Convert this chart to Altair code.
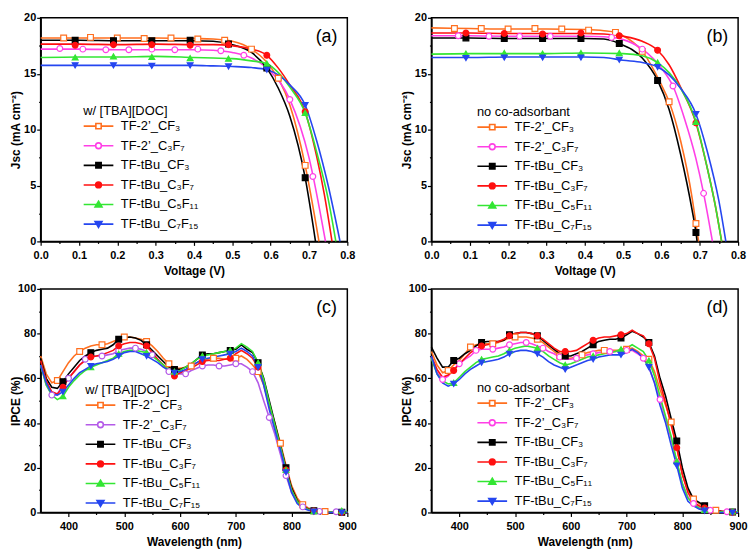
import altair as alt
import pandas as pd

FONT = "Liberation Sans"
W, H = 310, 226

SERIES = ["TF-2’_CF₃", "TF-2’_C₃F₇", "TF-tBu_CF₃", "TF-tBu_C₃F₇", "TF-tBu_C₅F₁₁", "TF-tBu_C₇F₁₅"]
MARKER_SHAPES = ["square", "circle", "square", "circle", "triangle-up", "triangle-down"]
COLORS_ABD = ["#FF6F1F", "#FF3FE6", "#000000", "#FF1010", "#33E633", "#2546F0"]
COLORS_C = ["#FF6F1F", "#B45AE8", "#000000", "#FF1010", "#33E633", "#2546F0"]

# legend symbols: line + marker (custom paths, pixel units at symbolSize 4)
SQ = "M-15,0H-2.7M2.7,0H15M-2.7,-2.7H2.7V2.7H-2.7Z"
CI = "M-15,0H-2.9M2.9,0H15M2.9,0A2.9,2.9,0,1,1,-2.9,0A2.9,2.9,0,1,1,2.9,0Z"
TU = "M-15,0H15M0,-3.3L3.5,2.6L-3.5,2.6Z"
TD = "M-15,0H15M0,3.3L3.5,-2.6L-3.5,-2.6Z"
LEGEND_PATHS = [SQ, CI, SQ, CI, TU, TD]

# ---------------- (a) J-V, w/ [TBA][DOC] ----------------
A_O_V = [0, 0.1, 0.2, 0.3, 0.4, 0.45, 0.5, 0.55, 0.6, 0.65, 0.69, 0.726]
A_O_J = [18.2, 18.2, 18.2, 18.2, 18.15, 18.1, 17.9, 17.2, 15.6, 12.2, 6.8, 0]
A_O_MV = [0.06, 0.13, 0.20, 0.27, 0.34, 0.41, 0.48, 0.55, 0.62, 0.69]
A_O_MJ = [18.2, 18.25, 18.2, 18.15, 18.2, 18.1, 18.0, 17.2, 14.6, 6.8]

A_M_V = [0, 0.1, 0.2, 0.3, 0.4, 0.45, 0.5, 0.55, 0.6, 0.65, 0.7, 0.743]
A_M_J = [17.2, 17.2, 17.15, 17.15, 17.15, 17.1, 16.9, 16.4, 15.2, 12.7, 7.5, 0]
A_M_MV = [0.05, 0.11, 0.17, 0.23, 0.29, 0.35, 0.41, 0.47, 0.53, 0.59, 0.65, 0.71]
A_M_MJ = [17.25, 17.2, 17.15, 17.15, 17.2, 17.15, 17.2, 17.05, 16.65, 15.5, 12.7, 5.8]

A_K_V = [0, 0.1, 0.2, 0.3, 0.4, 0.45, 0.5, 0.55, 0.59, 0.62, 0.65, 0.69, 0.717]
A_K_J = [18.0, 18.0, 17.95, 17.95, 17.95, 17.9, 17.6, 16.9, 15.5, 13.7, 11.2, 5.7, 0]
A_K_MV = [0.09, 0.19, 0.29, 0.39, 0.49, 0.59, 0.69]
A_K_MJ = [18.0, 17.95, 17.95, 18.0, 17.65, 15.5, 5.7]

A_R_V = [0, 0.1, 0.2, 0.3, 0.4, 0.45, 0.5, 0.55, 0.59, 0.62, 0.65, 0.69, 0.72, 0.74, 0.76]
A_R_J = [17.65, 17.65, 17.6, 17.65, 17.6, 17.6, 17.5, 17.2, 16.65, 15.5, 14.0, 11.6, 7.6, 4.2, 0]
A_R_MV = [0.09, 0.19, 0.29, 0.39, 0.49, 0.59, 0.69]
A_R_MJ = [17.55, 17.6, 17.6, 17.55, 17.6, 16.65, 11.6]

A_G_V = [0, 0.1, 0.2, 0.3, 0.4, 0.45, 0.5, 0.55, 0.59, 0.62, 0.65, 0.69, 0.72, 0.75, 0.77]
A_G_J = [16.45, 16.5, 16.5, 16.55, 16.45, 16.4, 16.35, 16.15, 15.9, 15.1, 13.8, 11.5, 8.0, 3.8, 0]
A_G_MV = [0.09, 0.19, 0.29, 0.39, 0.49, 0.59, 0.69]
A_G_MJ = [16.45, 16.55, 16.5, 16.4, 16.35, 15.9, 11.5]

A_B_V = [0, 0.1, 0.2, 0.3, 0.4, 0.45, 0.5, 0.55, 0.59, 0.62, 0.65, 0.69, 0.72, 0.75, 0.781]
A_B_J = [15.75, 15.75, 15.75, 15.75, 15.75, 15.7, 15.65, 15.55, 15.35, 14.9, 14.0, 12.2, 9.0, 5.0, 0]
A_B_MV = [0.09, 0.19, 0.29, 0.39, 0.49, 0.59, 0.69]
A_B_MJ = [15.75, 15.75, 15.7, 15.75, 15.65, 15.35, 12.2]

# ---------------- (b) J-V, no co-adsorbant ----------------
B_O_V = [0, 0.1, 0.2, 0.3, 0.4, 0.45, 0.48, 0.5, 0.55, 0.6, 0.62, 0.65, 0.68, 0.69, 0.697]
B_O_J = [19.1, 19.05, 19.0, 19.0, 18.95, 18.85, 18.7, 18.4, 17.0, 14.0, 12.5, 9.0, 3.9, 1.6, 0]
B_O_MV = [0.06, 0.13, 0.20, 0.27, 0.34, 0.41, 0.48, 0.55, 0.62, 0.69]
B_O_MJ = [19.05, 19.05, 19.0, 19.05, 19.0, 18.9, 18.7, 17.0, 12.5, 1.6]

B_M_V = [0, 0.1, 0.2, 0.3, 0.4, 0.45, 0.5, 0.55, 0.6, 0.63, 0.66, 0.69, 0.71, 0.733]
B_M_J = [18.4, 18.4, 18.35, 18.35, 18.35, 18.3, 18.05, 17.2, 15.5, 13.9, 11.0, 7.4, 4.3, 0]
B_M_MV = [0.07, 0.15, 0.23, 0.31, 0.39, 0.47, 0.55, 0.63, 0.71]
B_M_MJ = [18.4, 18.35, 18.35, 18.35, 18.35, 18.25, 17.2, 13.9, 4.3]

B_K_V = [0, 0.1, 0.2, 0.3, 0.4, 0.45, 0.49, 0.55, 0.59, 0.62, 0.65, 0.68, 0.69, 0.693]
B_K_J = [18.2, 18.2, 18.15, 18.15, 18.15, 18.1, 17.7, 16.4, 14.4, 11.8, 7.8, 2.8, 0.8, 0]
B_K_MV = [0.09, 0.19, 0.29, 0.39, 0.49, 0.59, 0.69]
B_K_MJ = [18.2, 18.15, 18.15, 18.15, 17.7, 14.4, 0.8]

B_R_V = [0, 0.1, 0.2, 0.3, 0.4, 0.45, 0.5, 0.55, 0.59, 0.62, 0.65, 0.69, 0.72, 0.74, 0.757]
B_R_J = [18.65, 18.65, 18.6, 18.6, 18.6, 18.55, 18.35, 17.9, 17.1, 15.8, 13.8, 10.6, 6.5, 3.3, 0]
B_R_MV = [0.09, 0.19, 0.29, 0.39, 0.49, 0.59, 0.69]
B_R_MJ = [18.65, 18.6, 18.55, 18.65, 18.4, 17.1, 10.6]

B_G_V = [0, 0.1, 0.2, 0.3, 0.4, 0.5, 0.55, 0.59, 0.62, 0.65, 0.69, 0.72, 0.74, 0.757]
B_G_J = [16.75, 16.8, 16.8, 16.8, 16.85, 16.8, 16.6, 16.0, 15.1, 13.7, 10.7, 6.5, 3.3, 0]
B_G_MV = [0.09, 0.19, 0.29, 0.39, 0.49, 0.59, 0.69]
B_G_MJ = [16.8, 16.85, 16.8, 16.85, 16.85, 16.0, 10.7]

B_B_V = [0, 0.1, 0.2, 0.3, 0.4, 0.45, 0.5, 0.55, 0.59, 0.62, 0.65, 0.69, 0.72, 0.75, 0.768]
B_B_J = [16.45, 16.45, 16.5, 16.5, 16.5, 16.45, 16.2, 16.0, 15.6, 14.9, 13.7, 11.4, 8.0, 3.6, 0]
B_B_MV = [0.09, 0.19, 0.29, 0.39, 0.49, 0.59, 0.69]
B_B_MJ = [16.4, 16.45, 16.45, 16.45, 16.25, 15.6, 11.4]

# ---------------- IPCE (c) and (d) ----------------
WL = [350, 360, 370, 380, 390, 400, 410, 420, 430, 440,
      450, 460, 470, 480, 490, 500, 510, 520, 530, 540,
      550, 560, 570, 580, 590, 600, 610, 620, 630, 640,
      650, 660, 670, 680, 690, 700, 710, 720, 730, 740,
      750, 760, 770, 780, 790, 800, 810, 820, 830, 840,
      850, 860, 870, 880, 890, 900]

C_O = [70, 62, 58, 59, 63, 67, 70, 72, 73.5, 74.5,
       75, 75, 75.5, 76.5, 77.5, 78.5, 78.5, 78, 77.5, 76.5,
       74.5, 72, 69, 66.5, 64.5, 64.5, 65, 65.5, 67, 68,
       68.5, 69, 69, 68.5, 68.5, 69, 70, 68.5, 66, 63,
       57, 48, 40, 31, 21, 12, 6.5, 3.5, 2, 1.2,
       0.6, 0.4, 0.2, 0.1, 0.1, 0]
C_M = [66, 57, 52.5, 53, 57, 60, 63, 66, 68.5, 69.5,
       70, 70, 70.5, 71, 72.5, 73, 73.5, 73.5, 73, 72,
       70.5, 68.5, 66, 63, 62, 62, 62, 63.5, 64.5, 65.5,
       66, 66, 65.5, 65.5, 66, 66.5, 66.5, 65, 63, 58,
       50, 42.5, 35, 26, 16.5, 9, 5, 2.5, 1.5, 0.8,
       0.5, 0.4, 0.3, 0.3, 0.2, 0]
C_K = [69, 60, 56, 55.5, 58.5, 62, 65, 68, 70, 71.5,
       72.5, 73, 73.5, 75, 77.5, 78, 78.5, 78, 77, 75,
       72.5, 70, 67.5, 65, 64, 64, 65, 66.5, 68.5, 70.5,
       71, 71, 71.5, 72, 72.5, 73, 75, 73, 71.5, 67,
       60, 50, 40, 30, 20, 11, 5.5, 2.8, 1.6, 0.8,
       0.4, 0.3, 0.2, 0.1, 0.1, 0]
C_R = [68, 59, 54, 53, 56, 60, 63, 66, 68, 69.5,
       70, 70.5, 71.5, 72.5, 74.5, 75.5, 76, 76, 75.5, 74.5,
       71.5, 68.5, 66, 63, 61, 62.5, 63.5, 64.5, 66, 67.5,
       68, 68, 68, 68.5, 69, 71, 72.5, 71, 69, 65,
       58, 48, 38.5, 29, 19, 10, 5, 2.5, 1.4, 0.7,
       0.3, 0.2, 0.1, 0.1, 0.1, 0]
C_G = [66, 57, 52.5, 50.5, 52, 56, 59, 61.5, 63.5, 65,
       66, 67, 68, 69, 71, 72, 72.5, 72.5, 72, 71.5,
       70, 68, 66, 64, 63, 63.5, 65, 66.5, 68.5, 70,
       70.5, 71, 71.5, 72, 72.5, 73.5, 75.5, 74, 72, 67,
       59.5, 49, 39, 29.5, 19, 10, 5, 2.5, 1.3, 0.6,
       0.3, 0.2, 0.2, 0.3, 0.8, 0.3]
C_B = [66, 58, 53, 52.5, 54, 57, 60, 62.5, 64, 65.5,
       66.5, 67, 67.5, 68.5, 70, 71.5, 72, 72, 71, 70,
       68.5, 67, 65, 63.5, 62.5, 63, 64, 65.5, 67, 68.5,
       69, 69.5, 70, 70.5, 71, 72, 73.5, 72, 70, 65,
       57, 46, 37, 28, 18, 9, 4, 2, 1, 0.4,
       0.2, 0.1, 0, 0, 0, 0]

D_O = [72, 66, 62.5, 63.5, 66, 68, 71, 74, 75, 75.5,
       75.5, 75.5, 76, 77, 78, 78.5, 78.5, 78.5, 78, 77.5,
       76, 74, 72, 70, 69, 69, 69.5, 70.5, 71.5, 72,
       72.5, 72.5, 72.5, 72.5, 72.5, 73, 73.5, 72, 70, 68.5,
       63, 55, 48, 40.5, 29, 17, 10, 6, 4, 2.5,
       1.5, 1, 0.6, 0.3, 0.2, 0]
D_M = [69, 63, 59.5, 61, 64, 66.5, 68.5, 70, 72.5, 73,
       73, 73, 73.5, 74, 75, 75.5, 76, 76, 75.5, 74.5,
       73.5, 72, 71, 69.5, 68.5, 68.5, 69, 70, 70.5, 71,
       71.5, 72, 72, 72, 72, 72.5, 72.5, 71, 69, 65,
       58, 50.5, 42, 33, 22.5, 13, 7, 4, 2.5, 1.5,
       1, 0.6, 0.4, 0.3, 0.2, 0]
D_K = [74, 69, 65, 65, 68, 69, 71, 72.5, 74.5, 76,
       76.5, 76.5, 76.5, 77, 79.5, 80, 80.5, 80.5, 80, 79,
       77, 75, 73, 71, 70, 70, 71, 72, 73.5, 75,
       76.5, 77, 77.5, 77.5, 78, 79.5, 81, 80, 78.5, 76,
       70, 60, 52, 42, 32, 20, 11, 6, 4.5, 3,
       1.5, 0.8, 0.5, 0.3, 0.2, 0]
D_R = [70, 64, 60.5, 61.5, 63.5, 66.5, 69, 71.5, 73, 74.5,
       75, 75.5, 76.5, 77.5, 79, 80, 80.5, 80.5, 80, 79,
       77.5, 75.5, 73.5, 72, 72, 72, 72.5, 74, 75.5, 77,
       78, 78.5, 78.5, 79, 79.5, 80, 81.5, 80, 79, 75.5,
       69, 58, 49, 39, 29, 17, 9, 4.5, 3, 2,
       1, 0.6, 0.4, 0.2, 0.1, 0]
D_G = [69, 62, 59, 57.5, 58, 60.5, 63, 65, 67, 68.5,
       69, 69.5, 70, 71, 72.5, 73.5, 74, 74.5, 74, 73.5,
       72, 70, 68.5, 67, 66, 66.5, 67.5, 68.5, 69.5, 70,
       70.5, 71, 71.5, 72, 73, 73.5, 75, 73.5, 72, 68,
       61, 52, 43, 34, 23, 13, 6.5, 3.5, 2, 1.2,
       0.6, 0.4, 0.3, 0.3, 0.5, 0.3]
D_B = [70, 62, 58, 56.5, 57.5, 59.5, 62, 64, 65.5, 67,
       67.5, 68, 68.5, 69.5, 71, 72, 72.5, 72.5, 72, 71,
       69.5, 67.5, 66, 65, 64, 65, 66, 67, 68, 68.5,
       69.5, 70, 70.5, 70.5, 70.5, 71.5, 73, 71.5, 69, 65,
       58, 48, 40, 30, 21, 11, 5, 3, 1.5, 0.8,
       0.3, 0.1, 0, 0, 0, 0]

# wavelengths where markers sit on each IPCE curve
M_OPEN_SQ = [380, 420, 460, 500, 540, 580, 620, 660, 700, 740, 780, 820, 860]
M_OPEN_CI = [370, 400, 430, 460, 490, 520, 550, 580, 610, 640, 670, 700, 730, 760, 790, 820, 850, 880]
M_FILLED = [390, 440, 490, 540, 590, 640, 690, 740, 790, 840, 890]
IPCE_MARKS = [M_OPEN_SQ, M_OPEN_CI, M_FILLED, M_FILLED, M_FILLED, M_FILLED]

JV_XTICKS = [0.0, 0.05, 0.1, 0.15, 0.2, 0.25, 0.3, 0.35, 0.4, 0.45, 0.5, 0.55, 0.6, 0.65, 0.7, 0.75, 0.8]
JV_YTICKS = [0, 2.5, 5, 7.5, 10, 12.5, 15, 17.5, 20]
IP_XTICKS = [400, 450, 500, 550, 600, 650, 700, 750, 800, 850, 900]
IP_YTICKS = [0, 10, 20, 30, 40, 50, 60, 70, 80, 90, 100]


def jv_frames(lines, marks):
    rows, mrows = [], []
    for s, (vs, js) in zip(SERIES, lines):
        for v, j in zip(vs, js):
            rows.append({"series": s, "x": v, "y": j})
    for s, shp, (vs, js) in zip(SERIES, MARKER_SHAPES, marks):
        for v, j in zip(vs, js):
            mrows.append({"series": s, "x": v, "y": j, "mshape": shp})
    return pd.DataFrame(rows), pd.DataFrame(mrows)


def ipce_frames(curves):
    rows, mrows = [], []
    for s, shp, vals, mk in zip(SERIES, MARKER_SHAPES, curves, IPCE_MARKS):
        for w, v in zip(WL, vals):
            rows.append({"series": s, "x": w, "y": v})
        for w in mk:
            mrows.append({"series": s, "x": w, "y": vals[WL.index(w)], "mshape": shp})
    return pd.DataFrame(rows), pd.DataFrame(mrows)


def tick_axis(title, values, major_test, fmt, title_pad, is_x):
    return alt.Axis(
        title=title,
        values=values,
        labelExpr=f"({major_test}) ? format(datum.value, '{fmt}') : ''",
        tickSize={"condition": {"test": major_test, "value": 4}, "value": 2},
        labelFlush=False,
        labelOverlap=False,
        labelPadding=4 if is_x else 1,
        titlePadding=title_pad,
    )


def panel(lines, marks, kind, colors, leg_title, leg_x, leg_y, tag):
    if kind == "jv":
        xs = alt.Scale(domain=[0, 0.8], nice=False, zero=False)
        ys = alt.Scale(domain=[0, 20], nice=False)
        xa = tick_axis("Voltage (V)", JV_XTICKS, "abs(datum.value*10 - round(datum.value*10)) < 0.001", ".1f", 5, True)
        ya = tick_axis("Jsc (mA cm⁻²)", JV_YTICKS, "datum.value % 5 == 0", "d", 1, False)
        interp = "monotone"
    else:
        xs = alt.Scale(domain=[350, 900], nice=False, zero=False)
        ys = alt.Scale(domain=[0, 100], nice=False)
        xa = tick_axis("Wavelength (nm)", IP_XTICKS, "datum.value % 100 == 0", "d", 5, True)
        ya = tick_axis("IPCE (%)", IP_YTICKS, "datum.value % 20 == 0", "d", -5, False)
        interp = "linear"

    fills = ["white", "white"] + colors[2:]
    sscale = alt.Scale(domain=SERIES, range=colors)
    fscale = alt.Scale(domain=SERIES, range=fills)
    shscale = alt.Scale(domain=SERIES, range=LEGEND_PATHS)

    leg = alt.Legend(
        title=leg_title, orient="none", legendX=leg_x, legendY=leg_y,
        symbolSize=4, symbolStrokeWidth=1.6, symbolFillColor="white", symbolStrokeColor="black",
        symbolOffset=9, labelOffset=16, rowPadding=5.8, titlePadding=2, padding=0,
    )

    X = alt.X("x:Q", scale=xs, axis=xa)
    Y = alt.Y("y:Q", scale=ys, axis=ya)

    leg_df = pd.DataFrame({"series": SERIES, "x": [-1000] * 6, "y": [-1000] * 6})
    legend_layer = alt.Chart(leg_df).mark_point(filled=True, opacity=1, clip=True, strokeWidth=1.6).encode(
        x=X, y=Y,
        stroke=alt.Stroke("series:N", scale=sscale, legend=leg),
        fill=alt.Fill("series:N", scale=fscale, legend=leg),
        shape=alt.Shape("series:N", scale=shscale, legend=leg),
    )
    line = alt.Chart(lines).mark_line(strokeWidth=1.6, interpolate=interp).encode(
        x=X, y=Y, stroke=alt.Stroke("series:N", scale=sscale, legend=leg)
    )
    pts = alt.Chart(marks).mark_point(filled=True, opacity=1, size=34, strokeWidth=1.2).encode(
        x=X, y=Y,
        stroke=alt.Stroke("series:N", scale=sscale, legend=leg),
        fill=alt.Fill("series:N", scale=fscale, legend=leg),
        shape=alt.Shape("mshape:N", scale=None),
    )
    label = alt.Chart(pd.DataFrame({"t": [tag]})).mark_text(
        font=FONT, fontSize=18, align="center", baseline="middle", color="black"
    ).encode(text="t:N", x=alt.value(W - 21), y=alt.value(19))

    return alt.layer(legend_layer, line, pts, label).properties(width=W, height=H)


a_lines, a_marks = jv_frames(
    [(A_O_V, A_O_J), (A_M_V, A_M_J), (A_K_V, A_K_J), (A_R_V, A_R_J), (A_G_V, A_G_J), (A_B_V, A_B_J)],
    [(A_O_MV, A_O_MJ), (A_M_MV, A_M_MJ), (A_K_MV, A_K_MJ), (A_R_MV, A_R_MJ), (A_G_MV, A_G_MJ), (A_B_MV, A_B_MJ)],
)
b_lines, b_marks = jv_frames(
    [(B_O_V, B_O_J), (B_M_V, B_M_J), (B_K_V, B_K_J), (B_R_V, B_R_J), (B_G_V, B_G_J), (B_B_V, B_B_J)],
    [(B_O_MV, B_O_MJ), (B_M_MV, B_M_MJ), (B_K_MV, B_K_MJ), (B_R_MV, B_R_MJ), (B_G_MV, B_G_MJ), (B_B_MV, B_B_MJ)],
)
c_lines, c_marks = ipce_frames([C_O, C_M, C_K, C_R, C_G, C_B])
d_lines, d_marks = ipce_frames([D_O, D_M, D_K, D_R, D_G, D_B])

pa = panel(a_lines, a_marks, "jv", COLORS_ABD, "w/ [TBA][DOC]", 43, 88, "(a)")
pb = panel(b_lines, b_marks, "jv", COLORS_ABD, "no co-adsorbant", 46, 89, "(b)")
pc = panel(c_lines, c_marks, "ipce", COLORS_C, "w/ [TBA][DOC]", 45, 96, "(c)")
pd_ = panel(d_lines, d_marks, "ipce", COLORS_ABD, "no co-adsorbant", 46, 94, "(d)")

chart = (
    alt.concat(pa, pb, pc, pd_, columns=2, spacing={"row": 5, "column": 42})
    .resolve_scale(stroke="independent", fill="independent", shape="independent")
    .resolve_legend(stroke="independent", fill="independent", shape="independent")
    .properties(padding=0, background="white")
    .configure_view(stroke="black", strokeWidth=1.5)
    .configure_axis(
        labelFont=FONT, labelFontSize=11, labelFontWeight="bold", labelColor="black",
        titleFont=FONT, titleFontSize=12, titleFontWeight="bold", titleColor="black",
        domainColor="black", domainWidth=1.5, tickColor="black", tickWidth=1.2, grid=False,
    )
    .configure_legend(
        labelFont=FONT, labelFontSize=13, labelColor="black",
        titleFont=FONT, titleFontSize=13, titleFontWeight="normal", titleColor="black",
        labelLimit=200, titleLimit=200,
    )
)

chart.save("out.html", embed_options={"renderer": "svg", "actions": False})
